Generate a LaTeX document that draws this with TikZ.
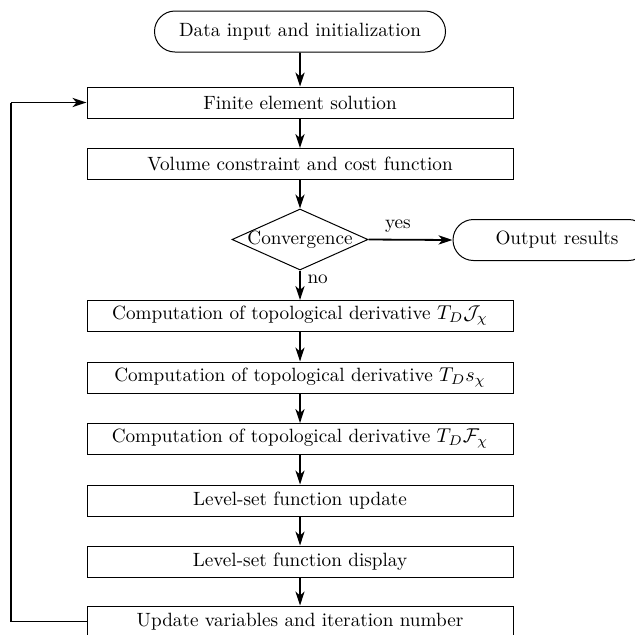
\documentclass[tikz,border=0pt]{standalone}
\usetikzlibrary{shapes.geometric,shapes.misc,arrows.meta}
\begin{document}
\begin{tikzpicture}[x=0.5pt,y=-0.5pt,
  every node/.style={font=\fontsize{9.6}{11.5}\selectfont},
  proc/.style={draw,line width=0.5pt,rectangle,minimum width=213pt,minimum height=15.5pt,inner sep=0pt},
  term/.style={draw,line width=0.5pt,rounded rectangle,minimum height=20.5pt,inner sep=0pt},
  dec/.style={draw,line width=0.5pt,diamond,minimum width=68pt,minimum height=30.5pt,inner sep=0pt,aspect=2.2},
  flow/.style={line width=0.9pt,-{Stealth[length=7pt,width=4.6pt,inset=2pt]}},
  lbl/.style={font=\fontsize{9.6}{11.5}\selectfont}]
\useasboundingbox (0,0) rectangle (635,634);
\node[term,minimum width=145.5pt] (start) at (300,31.5) {Data input and initialization};
\node[proc] (fe) at (300,102.5) {Finite element solution};
\node[proc] (vol) at (300,164) {Volume constraint and cost function};
\node[dec] (conv) at (300,239.5) {};
\node at (conv.center) {Convergence};
\node[term,minimum width=98pt] (out) at (551,240) {\hspace*{6pt}Output results};
\node[proc] (cj) at (300,316) {Computation of topological derivative $T_D\mathcal{J}_\chi$};
\node[proc] (cs) at (300,377.5) {Computation of topological derivative $T_Ds_\chi$};
\node[proc] (cf) at (300,439) {Computation of topological derivative $T_D\mathcal{F}_\chi$};
\node[proc] (lsu) at (300,500.5) {Level-set function update};
\node[proc] (lsd) at (300,561.5) {Level-set function display};
\node[proc] (upd) at (300,621.5) {Update variables and iteration number};
\coordinate (bl) at (11,621.5);
\coordinate (tl) at (11,102.5);
\draw[flow] (start) -- (fe);
\draw[flow] (fe) -- (vol);
\draw[flow] (vol) -- (conv.north);
\draw[flow] (conv.east) -- node[lbl,above,pos=0.35] {yes} (out.west);
\draw[flow] (conv.south) -- node[lbl,right,pos=0.3] {no} (cj);
\draw[flow] (cj) -- (cs);
\draw[flow] (cs) -- (cf);
\draw[flow] (cf) -- (lsu);
\draw[flow] (lsu) -- (lsd);
\draw[flow] (lsd) -- (upd);
\draw[line width=0.7pt] (upd.west) -- (bl) -- (tl);
\draw[flow] (tl) -- (fe.west);
\end{tikzpicture}
\end{document}
